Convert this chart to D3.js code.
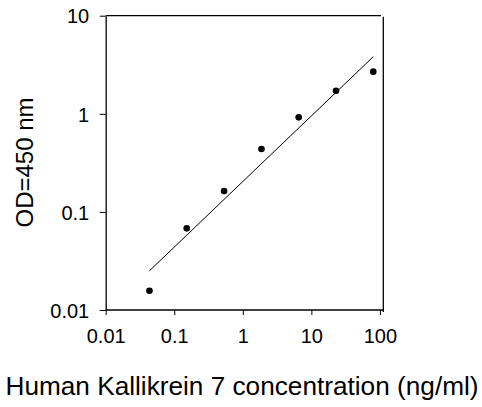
<!DOCTYPE html>
<html>
<head>
<meta charset="utf-8">
<script src="https://cdn.jsdelivr.net/npm/d3@7"></script>
<style>
  body { margin: 0; background: #fff; }
  text { font-family: "Liberation Sans", Arial, sans-serif; fill: #000; }
</style>
</head>
<body>
<div id="chart"></div>
<script>
// standard points
var concentration = [0.0435, 0.152, 0.533, 1.87, 6.53, 22.86, 80];
var od = [0.0157, 0.068, 0.163, 0.438, 0.92, 1.72, 2.69];
// fitted line end points
var fitX = [0.0435, 80];
var fitY = [0.0251, 3.82];
var xTicks = [0.01, 0.1, 1, 10, 100];
var yTicks = [0.01, 0.1, 1, 10];
var xTitle = "Human Kallikrein 7 concentration (ng/ml)";
var yTitle = "OD=450 nm";

window.onload = function () {
  var svg = d3.select("#chart").append("svg")
    .attr("width", 482)
    .attr("height", 407);

  var x = d3.scaleLog().domain([0.01, 112]).range([105.7, 383.3]);
  var y = d3.scaleLog().domain([0.01, 10]).range([310, 15.7]);

  // frame top / right
  svg.append("line")
    .attr("x1", x(0.01)).attr("x2", x(100) + 1)
    .attr("y1", y(10)).attr("y2", y(10))
    .attr("stroke", "#000").attr("stroke-width", 1.3);
  svg.append("line")
    .attr("x1", x.range()[1]).attr("x2", x.range()[1])
    .attr("y1", y(10) + 1).attr("y2", y(0.01) + 2)
    .attr("stroke", "#000").attr("stroke-width", 1.3);

  var xAxis = svg.append("g")
    .attr("transform", "translate(0," + y(0.01) + ")")
    .call(d3.axisBottom(x).tickValues(xTicks).tickFormat(d3.format("")).tickSize(5).tickSizeOuter(0));
  xAxis.select(".domain").attr("d", "M" + x(0.01) + ",0H" + x.range()[1]).attr("stroke-width", 1.3);
  xAxis.selectAll("text").attr("font-size", "20px").attr("y", 33).attr("dy", 0)
    .style("font-family", "Liberation Sans, Arial, sans-serif");

  var yAxis = svg.append("g")
    .attr("transform", "translate(" + x(0.01) + ",0)")
    .call(d3.axisLeft(y).tickValues(yTicks).tickFormat(d3.format("")).tickSize(6).tickSizeOuter(0));
  yAxis.select(".domain").attr("stroke-width", 1.3);
  yAxis.selectAll("text").attr("font-size", "20px").attr("x", -16.5).attr("dy", "0.36em")
    .style("font-family", "Liberation Sans, Arial, sans-serif");

  // fitted line
  svg.append("line")
    .attr("x1", x(fitX[0])).attr("y1", y(fitY[0]))
    .attr("x2", x(fitX[1])).attr("y2", y(fitY[1]))
    .attr("stroke", "#000").attr("stroke-width", 1);

  // points
  svg.selectAll("circle.pt")
    .data(concentration)
    .enter()
    .append("circle")
    .attr("class", "pt")
    .attr("cx", function (d) { return x(d); })
    .attr("cy", function (d, i) { return y(od[i]); })
    .attr("r", 3.3)
    .attr("fill", "#000");

  svg.append("text")
    .attr("x", 242).attr("y", 395)
    .attr("text-anchor", "middle")
    .attr("font-size", "26.2px")
    .text(xTitle);

  svg.append("text")
    .attr("transform", "translate(33,162.5) rotate(-90)")
    .attr("text-anchor", "middle")
    .attr("font-size", "24px")
    .text(yTitle);
};
</script>
</body>
</html>
